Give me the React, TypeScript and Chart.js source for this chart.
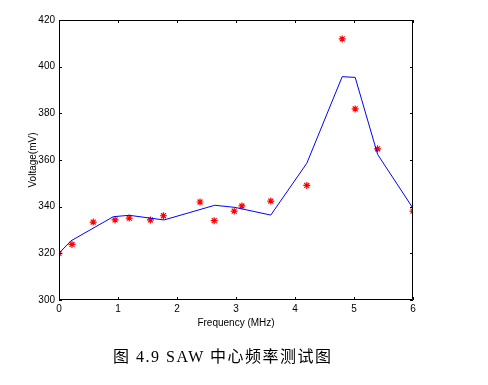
import React, { useEffect, useRef } from "react";
import { Chart, registerables } from "chart.js";

Chart.register(...registerables);

const fitFreq = [0, 0.2, 0.92, 1.19, 1.78, 2.64, 2.98, 3.59, 4.2, 4.8, 5.02, 5.4, 6.0];
const fitVoltage = [320, 325.3, 335.7, 336.3, 334.3, 340.6, 339.7, 336.4, 358.6, 395.7, 395.4, 362.4, 339.3];

const measFreq = [0, 0.22, 0.58, 0.95, 1.19, 1.55, 1.77, 2.39, 2.63, 2.97, 3.1, 3.59, 4.2, 4.8, 5.02, 5.4, 6.0];
const measVoltage = [320, 323.8, 333.4, 334.3, 335.1, 334.3, 336.1, 342, 334, 338.1, 340.3, 342.4, 349.1, 411.9, 381.9, 364.8, 338.1];

const xTicks = [0, 1, 2, 3, 4, 5, 6];
const yTicks = [300, 320, 340, 360, 380, 400, 420];

const xTitle = "Frequency (MHz)";
const yTitle = "Voltage(mV)";
const caption = "图 4.9 SAW 中心频率测试图";

const FONT = "'Liberation Sans', Arial, sans-serif";

const framePlugin = {
  id: "frameTicks",
  afterDraw(chart: any) {
    const { ctx, chartArea } = chart;
    const { left, right, top, bottom } = chartArea;
    const xs = chart.scales.x;
    const ys = chart.scales.y;
    ctx.save();
    ctx.strokeStyle = "#000";
    ctx.lineWidth = 1;
    ctx.beginPath();
    ctx.rect(left + 0.5, top + 0.5, right - left - 1, bottom - top - 1);
    ctx.stroke();
    const len = 3;
    ctx.beginPath();
    xTicks.forEach((v) => {
      const px = Math.round(xs.getPixelForValue(v)) + 0.5;
      ctx.moveTo(px, bottom);
      ctx.lineTo(px, bottom - len);
      ctx.moveTo(px, top);
      ctx.lineTo(px, top + len);
    });
    yTicks.forEach((v) => {
      const py = Math.round(ys.getPixelForValue(v)) + 0.5;
      ctx.moveTo(left, py);
      ctx.lineTo(left + len, py);
      ctx.moveTo(right, py);
      ctx.lineTo(right - len, py);
    });
    ctx.stroke();
    ctx.restore();
  },
};

export default function App() {
  const ref = useRef<HTMLCanvasElement | null>(null);

  useEffect(() => {
    if (!ref.current) return;
    const chart = new Chart(ref.current, {
      type: "scatter",
      data: {
        datasets: [
          {
            label: "fit",
            data: fitFreq.map((x, i) => ({ x, y: fitVoltage[i] })),
            showLine: true,
            borderColor: "#0000ff",
            borderWidth: 1,
            pointRadius: 0,
            fill: false,
          },
          {
            label: "measured",
            data: measFreq.map((x, i) => ({ x, y: measVoltage[i] })),
            showLine: false,
            pointStyle: "star",
            pointRadius: 3.5,
            borderColor: "#ff0000",
            backgroundColor: "#ff0000",
            pointBorderWidth: 1.2,
          },
        ],
      },
      options: {
        animation: false,
        responsive: false,
        maintainAspectRatio: false,
        layout: { padding: { left: 24, right: 75, top: 20, bottom: 53 } },
        plugins: {
          legend: { display: false },
          tooltip: { enabled: false },
          title: { display: false },
        },
        scales: {
          x: {
            type: "linear",
            min: 0,
            max: 6,
            afterFit: (s: any) => {
              s.height = 32;
            },
            afterBuildTicks: (s: any) => {
              s.ticks = xTicks.map((v) => ({ value: v }));
            },
            grid: { display: false, drawTicks: false },
            border: { display: false },
            ticks: {
              padding: 3,
              color: "#000",
              font: { family: FONT, size: 10 },
              maxRotation: 0,
            },
            title: {
              display: true,
              text: xTitle,
              color: "#000",
              font: { family: FONT, size: 10 },
              padding: { top: 0, bottom: 3 },
            },
          },
          y: {
            type: "linear",
            min: 300,
            max: 420,
            afterFit: (s: any) => {
              s.width = 35;
            },
            afterBuildTicks: (s: any) => {
              s.ticks = yTicks.map((v) => ({ value: v }));
            },
            grid: { display: false, drawTicks: false },
            border: { display: false },
            ticks: {
              padding: 4,
              color: "#000",
              font: { family: FONT, size: 10 },
            },
            title: {
              display: true,
              text: yTitle,
              color: "#000",
              font: { family: FONT, size: 10 },
              padding: { top: 3, bottom: 0 },
            },
          },
        },
      },
      plugins: [framePlugin],
    });
    return () => chart.destroy();
  }, []);

  return (
    <div style={{ position: "absolute", left: 0, top: 0, width: 488, height: 385, background: "#fff" }}>
      <canvas ref={ref} width={488} height={385} style={{ position: "absolute", left: 0, top: 0, width: 488, height: 385 }} />
      <div
        style={{
          position: "absolute",
          left: 113,
          top: 347,
          fontFamily: "'Liberation Serif', 'Noto Sans CJK SC', serif",
          fontSize: 16,
          letterSpacing: "1.5px",
          lineHeight: "20px",
          whiteSpace: "pre",
          color: "#000",
        }}
      >
        {caption}
      </div>
    </div>
  );
}
